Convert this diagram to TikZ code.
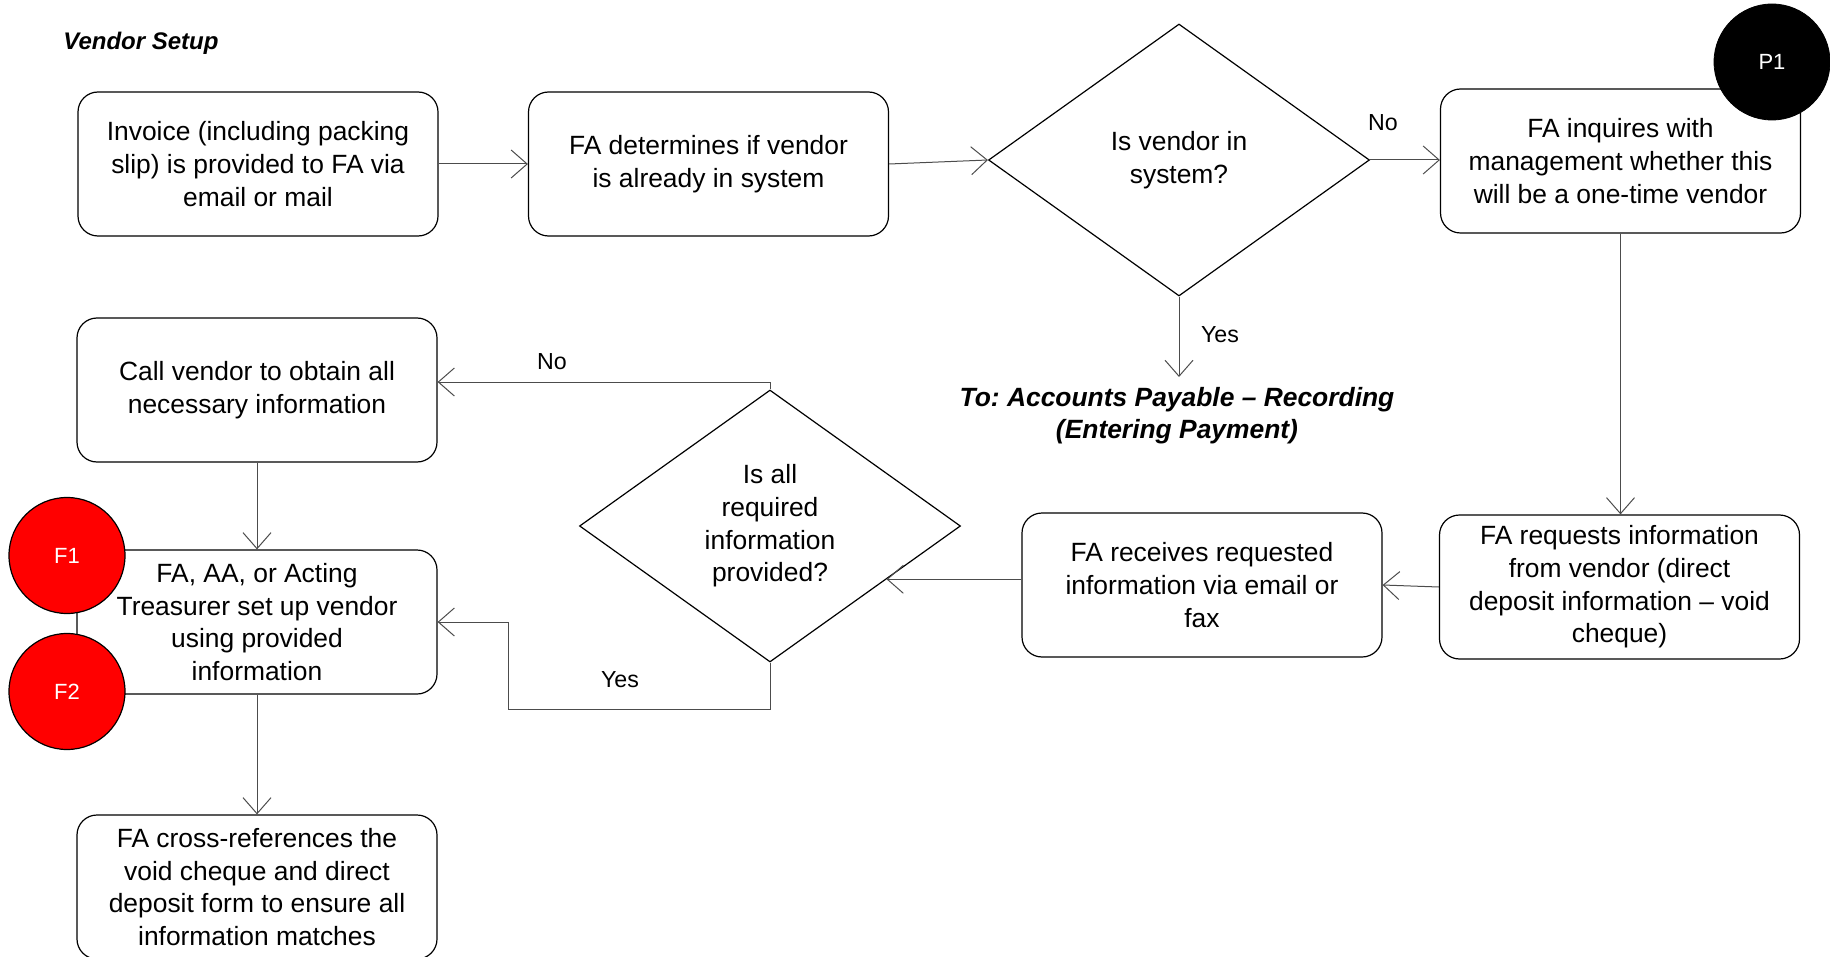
\documentclass[tikz,border=0pt]{standalone}
\usepackage{fontspec}
\setmainfont{Liberation Sans}
\usetikzlibrary{shapes.geometric,arrows.meta,calc}
\frenchspacing

\newcommand{\boxfont}{\fontsize{13.2}{16.3}\selectfont}
\newcommand{\lblfont}{\fontsize{11.6}{13.5}\selectfont}
\newcommand{\markfont}{\fontsize{11}{12.5}\selectfont}

\begin{document}
\begin{tikzpicture}[x=0.5pt, y=-0.5pt,
  stepbox/.style={draw=black, line width=0.6pt, rounded corners=10pt,
    minimum width=180pt, minimum height=72pt, inner sep=0pt,
    align=center, font=\boxfont},
  decision/.style={draw=black, line width=0.6pt, diamond, inner sep=0pt,
    minimum width=190.5pt, minimum height=136pt, align=center, font=\boxfont},
  flag/.style={circle, draw=black, line width=0.6pt, fill=red, text=white,
    minimum size=58pt, inner sep=0pt, font=\markfont},
  pflag/.style={circle, draw=black, fill=black, text=white,
    minimum size=58pt, inner sep=0pt, font=\markfont},
  arr/.style={draw=black!70, line width=0.5pt,
    -{Straight Barb[length=8pt, width=14pt]}},
  lbl/.style={font=\lblfont, inner sep=0pt},
  heading/.style={font=\fontsize{12}{14}\selectfont\bfseries\itshape, inner sep=0pt},
  offpage/.style={font=\fontsize{13.2}{15.9}\selectfont\bfseries\itshape,
    align=center, inner sep=0pt}
]
\useasboundingbox (0,0) rectangle (1830,957);

% title
\node[heading, anchor=base west] (title) at (63,50) {Vendor Setup};

% top row
\node[stepbox] (invoice) at (258,164) {Invoice (including packing\\slip) is provided to FA via\\email or mail};
\node[stepbox] (determine) at (708.5,164) {FA determines if vendor\\is already in system};
\node[decision] (insys) at (1179,160) {Is vendor in\\system?};
\node[stepbox] (inquire) at (1620.5,161) {FA inquires with\\management whether this\\will be a one-time vendor};
\node[pflag] (p1) at (1772,62) {P1};

% off-page reference
\coordinate (toap) at (1179,377);
\node[offpage] (aptext) at (1177,416) {To: Accounts Payable -- Recording\\(Entering Payment)};

% right column / middle row
\node[stepbox] (request) at (1619.5,587) {FA requests information\\from vendor (direct\\deposit information -- void\\cheque)};
\node[stepbox] (receive) at (1202,585) {FA receives requested\\information via email or\\fax};
\node[decision] (allinfo) at (770,526) {Is all\\required\\information\\provided?};

% left column
\node[stepbox] (callv) at (257,390) {Call vendor to obtain all\\necessary information};
\node[stepbox] (setup) at (257,622) {FA, AA, or Acting\\Treasurer set up vendor\\using provided\\information};
\node[stepbox] (xref) at (257,887) {FA cross-references the\\void cheque and direct\\deposit form to ensure all\\information matches};
\node[flag] (f1) at (67,555.5) {F1};
\node[flag] (f2) at (67,691.5) {F2};

% connectors
\draw[arr] (invoice.east) -- (invoice.east -| determine.west);
\draw[arr] (determine.east) -- (insys.west);
\draw[arr] (insys.east) -- (inquire.west |- insys.east);
\draw[arr] (insys.south) -- (toap);
\draw[arr] (inquire.south) -- (inquire.south |- request.north);
\draw[arr] (request.west) -- (receive.east);
\coordinate (allin) at ($(allinfo.east)!0.39!(allinfo.south)$);
\draw[arr] (allin -| receive.west) -- (allin);
\coordinate (noturn) at (770,382);
\draw[arr] (allinfo.north) -- (noturn) -- (noturn -| callv.east);
\coordinate (yesa) at (770,709);
\coordinate (yesb) at (508,709);
\draw[arr] (allinfo.south) -- (yesa) -- (yesb) |- (setup.east);
\draw[arr] (callv.south) -- (setup.north);
\draw[arr] (setup.south) -- (xref.north);

% branch labels
\node[lbl] (no1) at (1383,123) {No};
\node[lbl] (yes1) at (1220,335) {Yes};
\node[lbl] (no2) at (552,362) {No};
\node[lbl] (yes2) at (620,680) {Yes};
\end{tikzpicture}
\end{document}
